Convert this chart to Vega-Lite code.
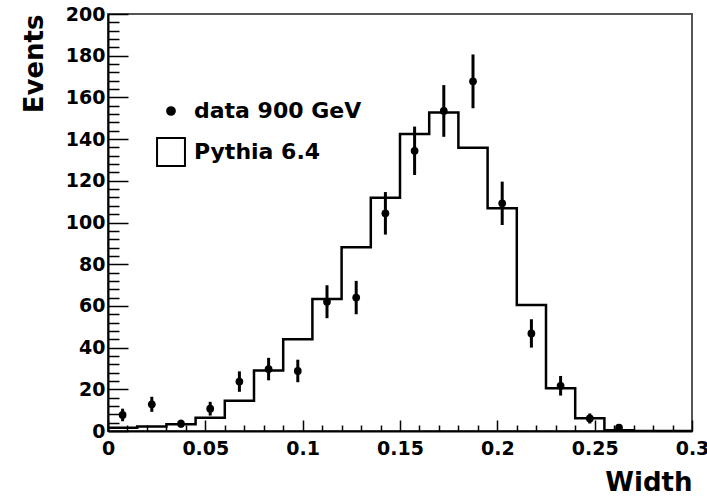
{
  "$schema": "https://vega.github.io/schema/vega-lite/v6.json",
  "autosize": "none",
  "width": 584,
  "height": 417,
  "padding": {"left": 108, "top": 14, "right": 15, "bottom": 67},
  "background": "white",
  "config": {
    "font": "DejaVu Sans",
    "view": {"stroke": "#555", "strokeWidth": 2},
    "axis": {
      "labelFont": "DejaVu Sans", "labelFontWeight": "bold", "labelFontSize": 19, "labelColor": "black",
      "titleFont": "DejaVu Sans", "titleFontWeight": "bold", "titleFontSize": 26, "titleColor": "black",
      "domainColor": "black", "domainWidth": 2, "tickColor": "black", "tickWidth": 1.5, "grid": false
    },
    "legend": {
      "labelFont": "DejaVu Sans", "labelFontWeight": "bold", "labelFontSize": 22, "labelColor": "black", "labelLimit": 400,
      "symbolStrokeWidth": 2, "symbolStrokeColor": "black"
    }
  },
  "datasets": {
    "hist": [
      {"edge": 0.000, "h": 1.6}, {"edge": 0.015, "h": 2.1}, {"edge": 0.030, "h": 3.2}, {"edge": 0.045, "h": 6.4},
      {"edge": 0.060, "h": 14.5}, {"edge": 0.075, "h": 29}, {"edge": 0.090, "h": 44}, {"edge": 0.105, "h": 63.3},
      {"edge": 0.120, "h": 88.1}, {"edge": 0.135, "h": 111.9}, {"edge": 0.150, "h": 142.4}, {"edge": 0.165, "h": 152.7},
      {"edge": 0.180, "h": 135.9}, {"edge": 0.195, "h": 106.8}, {"edge": 0.210, "h": 60.4}, {"edge": 0.225, "h": 20.5},
      {"edge": 0.240, "h": 6.1}, {"edge": 0.255, "h": 0.4}, {"edge": 0.270, "h": 0}, {"edge": 0.285, "h": 0},
      {"edge": 0.300, "h": 0}
    ],
    "pts": [
      {"xc": 0.0075, "y": 7.7, "lo": 4.7, "hi": 10.7, "series": "data 900 GeV"},
      {"xc": 0.0225, "y": 12.8, "lo": 9.2, "hi": 16.4, "series": "data 900 GeV"},
      {"xc": 0.0375, "y": 3.5, "lo": 1.6, "hi": 5.4, "series": "data 900 GeV"},
      {"xc": 0.0525, "y": 10.7, "lo": 7.4, "hi": 14.0, "series": "data 900 GeV"},
      {"xc": 0.0675, "y": 23.7, "lo": 18.8, "hi": 28.6, "series": "data 900 GeV"},
      {"xc": 0.0825, "y": 29.7, "lo": 24.3, "hi": 35.1, "series": "data 900 GeV"},
      {"xc": 0.0975, "y": 28.8, "lo": 23.4, "hi": 34.2, "series": "data 900 GeV"},
      {"xc": 0.1125, "y": 62, "lo": 54.1, "hi": 69.9, "series": "data 900 GeV"},
      {"xc": 0.1275, "y": 64, "lo": 56, "hi": 72, "series": "data 900 GeV"},
      {"xc": 0.1425, "y": 104.4, "lo": 94.2, "hi": 114.6, "series": "data 900 GeV"},
      {"xc": 0.1575, "y": 134.4, "lo": 122.8, "hi": 146.0, "series": "data 900 GeV"},
      {"xc": 0.1725, "y": 153.5, "lo": 141.1, "hi": 165.9, "series": "data 900 GeV"},
      {"xc": 0.1875, "y": 167.7, "lo": 154.8, "hi": 180.6, "series": "data 900 GeV"},
      {"xc": 0.2025, "y": 109.2, "lo": 98.8, "hi": 119.6, "series": "data 900 GeV"},
      {"xc": 0.2175, "y": 46.8, "lo": 40.0, "hi": 53.6, "series": "data 900 GeV"},
      {"xc": 0.2325, "y": 21.7, "lo": 17.0, "hi": 26.4, "series": "data 900 GeV"},
      {"xc": 0.2475, "y": 6.0, "lo": 3.6, "hi": 8.4, "series": "data 900 GeV"},
      {"xc": 0.2625, "y": 1.6, "lo": 0.4, "hi": 2.8, "series": "data 900 GeV"}
    ]
  },
  "resolve": {"axis": {"x": "independent", "y": "independent"}},
  "layer": [
    {
      "data": {"name": "hist"},
      "mark": {"type": "line", "interpolate": "step-after", "stroke": "black", "strokeWidth": 2.5, "clip": true},
      "encoding": {
        "x": {"field": "edge", "type": "quantitative", "scale": {"domain": [0, 0.3], "nice": false},
          "axis": {"orient": "bottom", "values": [0, 0.05, 0.1, 0.15, 0.2, 0.25, 0.3], "format": "~g", "tickSize": -11, "labelPadding": 19,
            "labelFlush": false, "labelOverlap": false, "title": "Width", "titleAnchor": "end", "titlePadding": 11}},
        "y": {"field": "h", "type": "quantitative", "scale": {"domain": [0, 200], "nice": false},
          "axis": {"orient": "left", "values": [0, 20, 40, 60, 80, 100, 120, 140, 160, 180, 200], "tickSize": -20, "labelPadding": 23,
            "labelFlush": false, "labelOverlap": false, "title": "Events", "titleAnchor": "end", "titlePadding": 18}}
      }
    },
    {
      "data": {"name": "pts"},
      "mark": {"type": "rule", "stroke": "black", "strokeWidth": 3},
      "encoding": {
        "x": {"field": "xc", "type": "quantitative",
          "axis": {"orient": "bottom", "values": [0.01, 0.02, 0.03, 0.04, 0.06, 0.07, 0.08, 0.09, 0.11, 0.12, 0.13, 0.14, 0.16, 0.17, 0.18, 0.19, 0.21, 0.22, 0.23, 0.24, 0.26, 0.27, 0.28, 0.29],
            "tickSize": -6, "labels": false, "domain": false, "title": null}},
        "y": {"field": "lo", "type": "quantitative",
          "axis": {"orient": "left", "values": [4, 8, 12, 16, 24, 28, 32, 36, 44, 48, 52, 56, 64, 68, 72, 76, 84, 88, 92, 96, 104, 108, 112, 116, 124, 128, 132, 136, 144, 148, 152, 156, 164, 168, 172, 176, 184, 188, 192, 196],
            "tickSize": -11, "labels": false, "domain": false, "title": null}},
        "y2": {"field": "hi"}
      }
    },
    {
      "data": {"name": "pts"},
      "mark": {"type": "point", "filled": true, "opacity": 1, "strokeWidth": 0},
      "encoding": {
        "x": {"field": "xc", "type": "quantitative", "axis": null},
        "y": {"field": "y", "type": "quantitative", "axis": null},
        "shape": {"field": "series", "type": "nominal", "scale": {"domain": ["data 900 GeV", "Pythia 6.4"], "range": ["circle", "square"]},
          "legend": {"title": null, "orient": "none", "legendX": 48, "legendY": 86, "labelOffset": 8, "rowPadding": 12, "padding": 0,
            "symbolStrokeColor": "black", "symbolStrokeWidth": 2}},
        "fill": {"field": "series", "type": "nominal", "scale": {"domain": ["data 900 GeV", "Pythia 6.4"], "range": ["black", "white"]},
          "legend": {"title": null, "orient": "none", "legendX": 48, "legendY": 86, "labelOffset": 8, "rowPadding": 12, "padding": 0,
            "symbolStrokeColor": "black", "symbolStrokeWidth": 2}},
        "stroke": {"field": "series", "type": "nominal", "scale": {"domain": ["data 900 GeV", "Pythia 6.4"], "range": ["black", "black"]},
          "legend": {"title": null, "orient": "none", "legendX": 48, "legendY": 86, "labelOffset": 8, "rowPadding": 12, "padding": 0,
            "symbolStrokeColor": "black", "symbolStrokeWidth": 2}},
        "size": {"field": "series", "type": "nominal", "scale": {"domain": ["data 900 GeV", "Pythia 6.4"], "range": [60, 780]},
          "legend": {"title": null, "orient": "none", "legendX": 48, "legendY": 86, "labelOffset": 8, "rowPadding": 12, "padding": 0,
            "symbolStrokeColor": "black", "symbolStrokeWidth": 2}}
      }
    }
  ]
}
